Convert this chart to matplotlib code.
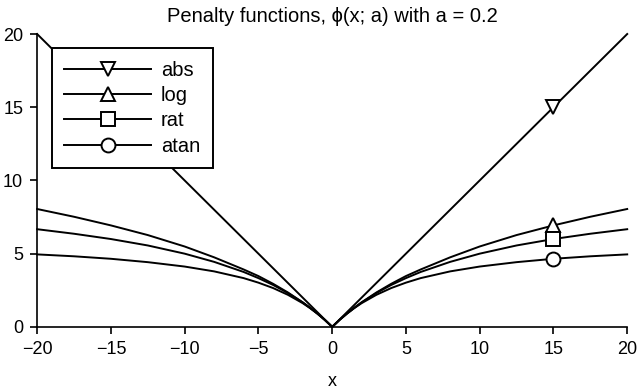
import matplotlib
matplotlib.use('Agg')
import matplotlib.pyplot as plt

# 数据
x_vals = [-20, -17.5, -15, -12.5, -10, -8, -6, -5, -4, -3, -2, -1.5, -1, -0.5, 0,
          0.5, 1, 1.5, 2, 3, 4, 5, 6, 8, 10, 12.5, 15, 17.5, 20]
abs_vals = [20, 17.5, 15, 12.5, 10, 8, 6, 5, 4, 3, 2, 1.5, 1, 0.5, 0,
            0.5, 1, 1.5, 2, 3, 4, 5, 6, 8, 10, 12.5, 15, 17.5, 20]
log_vals = [8.05, 7.52, 6.93, 6.27, 5.49, 4.75, 3.92, 3.47, 2.94, 2.35, 1.68, 1.31, 0.91, 0.48, 0,
            0.48, 0.91, 1.31, 1.68, 2.35, 2.94, 3.47, 3.92, 4.75, 5.49, 6.27, 6.93, 7.52, 8.05]
rat_vals = [6.67, 6.36, 6.0, 5.56, 5.0, 4.44, 3.75, 3.33, 2.86, 2.31, 1.67, 1.30, 0.91, 0.48, 0,
            0.48, 0.91, 1.30, 1.67, 2.31, 2.86, 3.33, 3.75, 4.44, 5.0, 5.56, 6.0, 6.36, 6.67]
atan_vals = [4.95, 4.82, 4.65, 4.42, 4.12, 3.79, 3.33, 3.02, 2.65, 2.19, 1.62, 1.28, 0.90, 0.47, 0,
             0.47, 0.90, 1.28, 1.62, 2.19, 2.65, 3.02, 3.33, 3.79, 4.12, 4.42, 4.65, 4.82, 4.95]
marker_x = 15
names = ['abs', 'log', 'rat', 'atan']
markers = ['v', '^', 's', 'o']

plt.rcParams['font.family'] = ['Liberation Sans', 'DejaVu Sans']
plt.rcParams['font.size'] = 13

fig = plt.figure(figsize=(6.4, 3.91), dpi=100)
ax = fig.add_axes([0.058, 0.164, 0.922, 0.749])

series = [abs_vals, log_vals, rat_vals, atan_vals]
for name, vals, m in zip(names, series, markers):
    idx = x_vals.index(marker_x)
    ax.plot(x_vals, vals, color='black', lw=1.4, marker=m, markevery=[idx],
            markersize=10, markerfacecolor='white', markeredgecolor='black',
            markeredgewidth=1.4, label=name, clip_on=False)

ax.set_xlim(-20, 20)
ax.set_ylim(0, 20)
ax.set_xticks(range(-20, 21, 5))
ax.set_xticklabels(['\u221220', '\u221215', '\u221210', '\u22125', '0', '5', '10', '15', '20'])
ax.set_yticks([0, 5, 10, 15, 20])
ax.spines['top'].set_visible(False)
ax.spines['right'].set_visible(False)
ax.spines['left'].set_linewidth(1.2)
ax.spines['bottom'].set_linewidth(1.2)
ax.tick_params(direction='out', length=5, width=1.2, pad=5)
ax.set_xlabel('x', labelpad=11)
ax.set_title('Penalty functions, \u03d5(x; a) with a = 0.2', fontsize=14.5, pad=9)

leg = ax.legend(loc='upper left', bbox_to_anchor=(0.025, 0.952), numpoints=1,
                fontsize=14.5, handlelength=4.3, labelspacing=0.32, fancybox=False,
                framealpha=1, edgecolor='black', borderpad=0.62, borderaxespad=0,
                handletextpad=0.5)
leg.get_frame().set_linewidth(1.4)

plt.savefig('out.png', dpi=100)
plt.close()
